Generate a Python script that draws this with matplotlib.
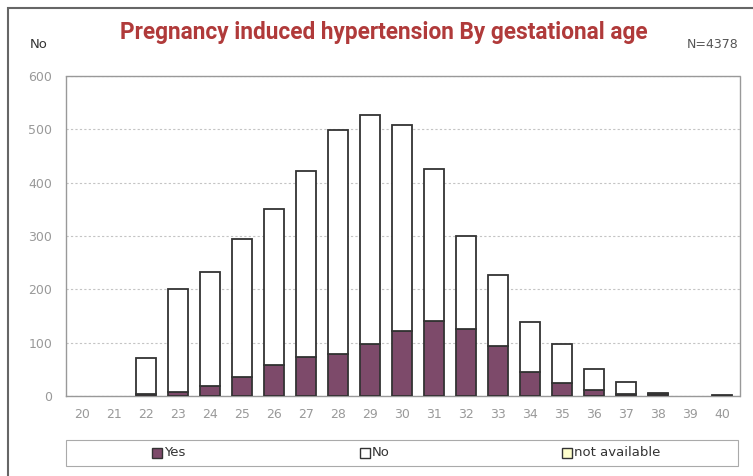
import numpy as np
import matplotlib
matplotlib.use('Agg')
import matplotlib.pyplot as plt
from matplotlib.patches import Patch, Rectangle

# gestational age (weeks)
weeks = list(range(20, 41))
# counts
yes = [0, 0, 3, 8, 19, 35, 58, 73, 78, 98, 121, 140, 125, 93, 45, 24, 12, 3, 3, 0, 0]
no = [0, 0, 69, 192, 214, 260, 293, 348, 421, 429, 387, 286, 175, 134, 93, 73, 38, 23, 2, 0, 2]
not_avail = [0] * 21

yes_color = '#7d4a6a'
na_color = '#ffffcc'
edge = '#333333'

fig = plt.figure(figsize=(7.53, 4.76), dpi=100)
fig.patch.set_facecolor('white')
ax = fig.add_axes([66 / 753, 1 - 396 / 476, (740 - 66) / 753, (396 - 76) / 476])

x = np.array(weeks)
yes_a = np.array(yes)
no_a = np.array(no)
na_a = np.array(not_avail)


def stacked(vals, bottom, color):
    # zero-height segments are left out so they don't draw a flat edge
    m = vals > 0
    ax.bar(x[m], vals[m], bottom=bottom[m], width=0.62, color=color,
           edgecolor=edge, linewidth=1.3, zorder=3)


stacked(yes_a, np.zeros_like(yes_a), yes_color)
stacked(no_a, yes_a, 'white')
stacked(na_a, yes_a + no_a, na_color)

ax.set_xlim(19.5, 40.55)
ax.set_ylim(0, 600)
ax.set_xticks(weeks)
ax.set_yticks(range(0, 601, 100))
ax.yaxis.grid(True, linestyle=(0, (2, 2)), color='#c4c4c4', linewidth=0.8, zorder=0)
ax.tick_params(axis='both', colors='#999999', labelcolor='#999999', labelsize=9, length=0)
ax.tick_params(axis='x', pad=9)
ax.tick_params(axis='y', pad=10)
for spine in ax.spines.values():
    spine.set_color('#999999')
    spine.set_linestyle((0, (2, 1)))
    spine.set_linewidth(1.0)

# titles / annotations
fig.text(384 / 753, 1 - 32 / 476, 'Pregnancy induced hypertension By gestational age',
         ha='center', va='center', fontsize=16.3, fontweight='bold', color='#b03a3a',
         family='Roboto')
fig.text(30 / 753, 1 - 45 / 476, 'No', ha='left', va='center', fontsize=9.5, color='#333333')
fig.text(738 / 753, 1 - 45 / 476, 'N=4378', ha='right', va='center', fontsize=9, color='#555555')

# outer border
fig.add_artist(Rectangle((8 / 753, -0.05), 1.05, 1 - 8 / 476 + 0.05, transform=fig.transFigure,
                         fill=False, edgecolor='#666666', linewidth=1.5))

# legend box
fig.add_artist(Rectangle((66 / 753, 1 - 466 / 476), (738 - 66) / 753, 26 / 476,
                         transform=fig.transFigure, fill=False, edgecolor='#aaaaaa', linewidth=0.8))
handles = [Patch(facecolor=yes_color, edgecolor=edge, label='Yes'),
           Patch(facecolor='white', edgecolor=edge, label='No'),
           Patch(facecolor=na_color, edgecolor=edge, label='not available')]
leg_x = [152, 360, 562]
for h, lx in zip(handles, leg_x):
    fig.add_artist(Rectangle((lx / 753, 1 - 458 / 476), 10 / 753, 10 / 476,
                             transform=fig.transFigure, facecolor=h.get_facecolor(),
                             edgecolor=edge, linewidth=1))
    fig.text((lx + 12) / 753, 1 - 453 / 476, h.get_label(), ha='left', va='center',
             fontsize=9.5, color='#333333')

fig.savefig('out.png', dpi=100)
